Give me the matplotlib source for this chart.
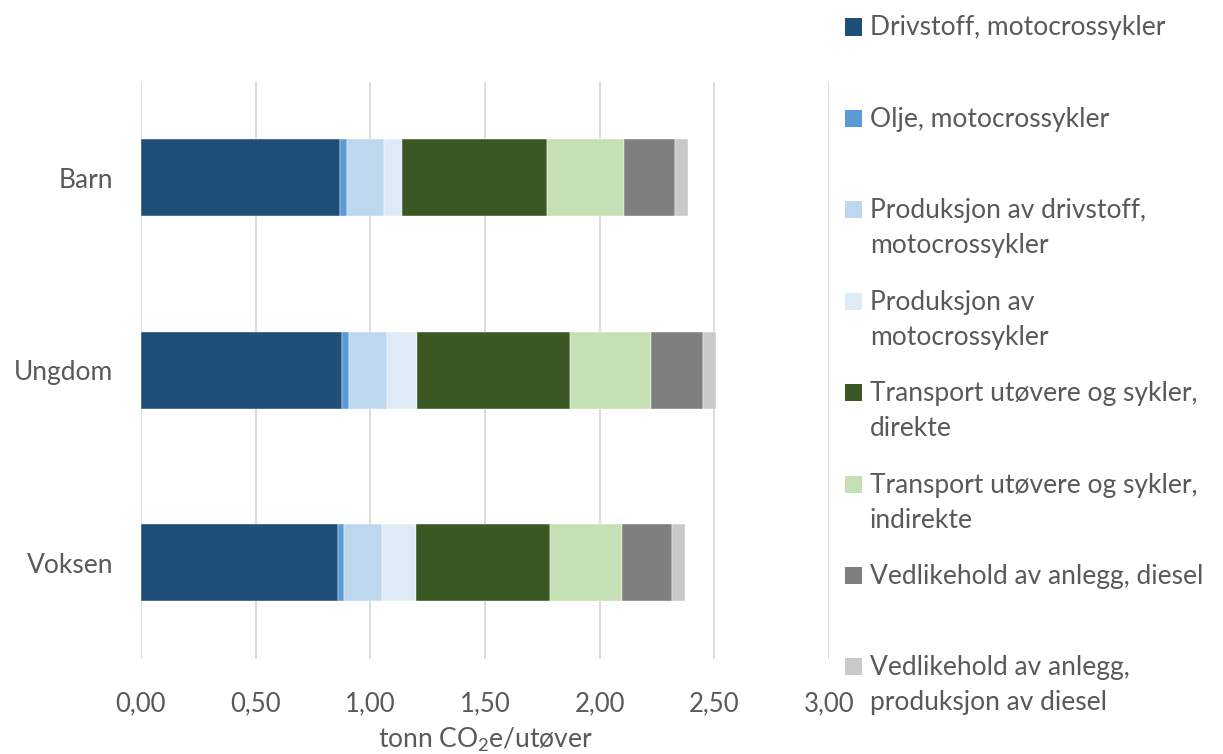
import matplotlib
matplotlib.use('Agg')
import matplotlib.pyplot as plt
from matplotlib.patches import Rectangle
import numpy as np

plt.rcParams['font.family'] = ['Lato', 'DejaVu Sans']
plt.rcParams['mathtext.fontset'] = 'custom'
plt.rcParams['mathtext.rm'] = 'Lato'
plt.rcParams['mathtext.it'] = 'Lato'

# data (tonn CO2e per utøver)
groups = ['Barn', 'Ungdom', 'Voksen']
series = ['Drivstoff, motocrossykler',
          'Olje, motocrossykler',
          'Produksjon av drivstoff,\nmotocrossykler',
          'Produksjon av\nmotocrossykler',
          'Transport utøvere og sykler,\ndirekte',
          'Transport utøvere og sykler,\nindirekte',
          'Vedlikehold av anlegg, diesel',
          'Vedlikehold av anlegg,\nproduksjon av diesel']
drivstoff = [0.869, 0.878, 0.860]
olje = [0.029, 0.030, 0.026]
prod_drivstoff = [0.163, 0.166, 0.163]
prod_moto = [0.079, 0.130, 0.152]
transport_dir = [0.632, 0.668, 0.584]
transport_indir = [0.334, 0.354, 0.311]
vedlikehold = [0.223, 0.225, 0.220]
prod_diesel = [0.057, 0.058, 0.055]
values = [drivstoff, olje, prod_drivstoff, prod_moto,
          transport_dir, transport_indir, vedlikehold, prod_diesel]
colors = ['#1F4E79', '#5B9BD5', '#BDD7EE', '#DEEBF7',
          '#3A5724', '#C5E0B4', '#7F7F7F', '#C9C9C9']
xticks = [0, 0.5, 1.0, 1.5, 2.0, 2.5, 3.0]

W, H = 1223, 754
fig = plt.figure(figsize=(W / 100, H / 100), dpi=100)
ax = fig.add_axes([141 / W, (H - 659) / H, (829 - 141) / W, (659 - 81.5) / H])

txtcol = '#595959'
y = np.arange(len(groups))
left = np.zeros(len(groups))
for vals, col, name in zip(values, colors, series):
    ax.barh(y, vals, left=left, height=0.4, color=col, label=name,
            edgecolor='white', linewidth=0.3, zorder=3)
    left += np.array(vals)

ax.set_xlim(0, 3.0)
ax.set_ylim(2.5, -0.5)
ax.set_xticks(xticks)
ax.set_xticklabels([('%.2f' % t).replace('.', ',') for t in xticks])
ax.set_yticks(y)
ax.set_yticklabels(groups)
ax.tick_params(length=0, colors=txtcol)
ax.tick_params(axis='x', labelsize=18.5, pad=23)
ax.tick_params(axis='y', labelsize=19, pad=20)
ax.grid(axis='x', color='#D9D9D9', linewidth=1.3, zorder=0)
for s in ax.spines.values():
    s.set_visible(False)
ax.set_xlabel(r'tonn CO$_2$e/utøver', fontsize=19, color=txtcol, labelpad=7)

# legend on the right, drawn by hand (one text per line)
top = 27
step = 91.4
line_step = 35
for i, (name, col) in enumerate(zip(series, colors)):
    yc = top + i * step
    fig.patches.append(Rectangle((845 / W, 1 - (yc + 8.5) / H), 17 / W, 17 / H,
                                 transform=fig.transFigure, facecolor=col,
                                 edgecolor='none'))
    for k, line in enumerate(name.split('\n')):
        fig.text(870 / W, 1 - (yc + 8.5 + k * line_step) / H, line,
                 fontsize=19, color=txtcol, va='baseline', ha='left')

fig.savefig('out.png', dpi=100)
